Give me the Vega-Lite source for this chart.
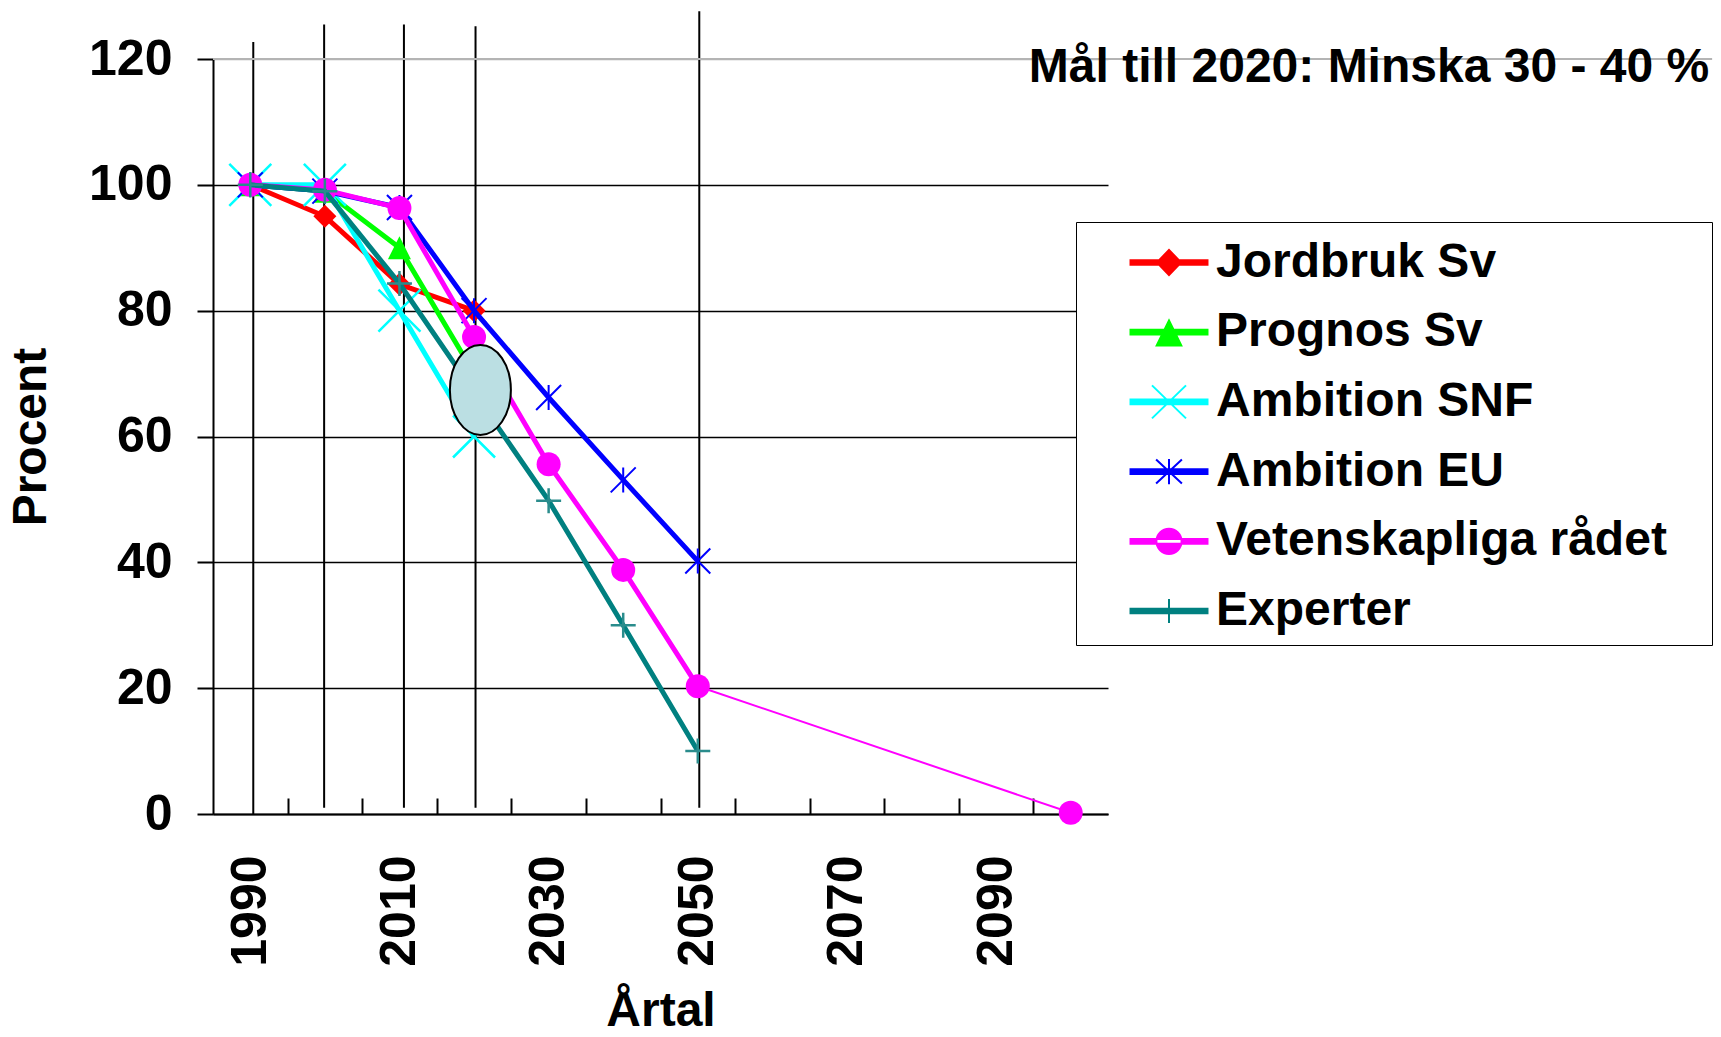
{
  "$schema": "https://vega.github.io/schema/vega-lite/v6.json",
  "width": 895,
  "height": 755,
  "autosize": {"type": "none"},
  "padding": {"left": 213, "top": 59, "right": 613, "bottom": 223},
  "background": "white",
  "config": {"view": {"stroke": null}},
  "datasets": {
    "series": [
      {"serie": "Jordbruk Sv", "year": 1990, "value": 100},
      {"serie": "Jordbruk Sv", "year": 2000, "value": 95},
      {"serie": "Jordbruk Sv", "year": 2010, "value": 84.2},
      {"serie": "Jordbruk Sv", "year": 2020, "value": 80},
      {"serie": "Prognos Sv", "year": 1990, "value": 100},
      {"serie": "Prognos Sv", "year": 2000, "value": 99},
      {"serie": "Prognos Sv", "year": 2010, "value": 90},
      {"serie": "Prognos Sv", "year": 2020, "value": 70},
      {"serie": "Ambition SNF", "year": 1990, "value": 100},
      {"serie": "Ambition SNF", "year": 2000, "value": 100},
      {"serie": "Ambition SNF", "year": 2010, "value": 80},
      {"serie": "Ambition SNF", "year": 2020, "value": 60},
      {"serie": "Ambition EU", "year": 1990, "value": 100},
      {"serie": "Ambition EU", "year": 2000, "value": 99},
      {"serie": "Ambition EU", "year": 2010, "value": 96.4},
      {"serie": "Ambition EU", "year": 2020, "value": 80},
      {"serie": "Ambition EU", "year": 2030, "value": 66.2},
      {"serie": "Ambition EU", "year": 2040, "value": 53.1},
      {"serie": "Ambition EU", "year": 2050, "value": 40.2},
      {"serie": "Vetenskapliga rådet", "year": 1990, "value": 100},
      {"serie": "Vetenskapliga rådet", "year": 2000, "value": 99.2},
      {"serie": "Vetenskapliga rådet", "year": 2010, "value": 96.3},
      {"serie": "Vetenskapliga rådet", "year": 2020, "value": 75.8},
      {"serie": "Vetenskapliga rådet", "year": 2030, "value": 55.6},
      {"serie": "Vetenskapliga rådet", "year": 2040, "value": 38.8},
      {"serie": "Vetenskapliga rådet", "year": 2050, "value": 20.3},
      {"serie": "Vetenskapliga rådet", "year": 2100, "value": 0.2},
      {"serie": "Experter", "year": 1990, "value": 100},
      {"serie": "Experter", "year": 2000, "value": 99},
      {"serie": "Experter", "year": 2010, "value": 84.3},
      {"serie": "Experter", "year": 2020, "value": 67},
      {"serie": "Experter", "year": 2030, "value": 49.8},
      {"serie": "Experter", "year": 2040, "value": 30},
      {"serie": "Experter", "year": 2050, "value": 10}
    ],
    "vlines": [
      {"year": 1990.4, "top": 122.7, "bottom": 0},
      {"year": 1999.9, "top": 125.5, "bottom": 1},
      {"year": 2010.6, "top": 125.5, "bottom": 1},
      {"year": 2020.2, "top": 125.2, "bottom": 1},
      {"year": 2050.2, "top": 127.6, "bottom": 1}
    ],
    "target": [
      {"year": 2020.85, "value": 67.4}
    ],
    "note": [
      {"label": "Mål till 2020: Minska 30 - 40 %", "year": 2185.6, "value": 116.3}
    ]
  },
  "layer": [
    {
      "data": {"name": "vlines"},
      "mark": {"type": "rule", "color": "black", "strokeWidth": 2},
      "encoding": {
        "x": {
          "field": "year", "type": "quantitative",
          "scale": {"domain": [1985, 2105], "nice": false, "zero": false},
          "axis": {
            "title": "Årtal",
            "values": [1990, 1995, 2000, 2005, 2010, 2015, 2020, 2025, 2030, 2035, 2040, 2045, 2050, 2055, 2060, 2065, 2070, 2075, 2080, 2085, 2090, 2095],
            "format": "d",
            "labelExpr": "datum.value % 20 == 10 ? datum.label : ''",
            "labelAngle": 270,
            "labelAlign": "right",
            "labelBaseline": "middle",
            "labelFont": "Liberation Sans",
            "labelFontSize": 50,
            "labelFontWeight": "bold",
            "labelColor": "black",
            "labelPadding": 57,
            "labelOverlap": false,
            "labelFlush": false,
            "labelBound": false,
            "tickSize": -16,
            "tickColor": "black",
            "tickWidth": 2,
            "tickOpacity": {"condition": {"test": "datum.value % 10 == 5", "value": 1}, "value": 0},
            "domainColor": "black",
            "domainWidth": 2,
            "grid": false,
            "titleFont": "Liberation Sans",
            "titleFontSize": 48,
            "titleFontWeight": "bold",
            "titleColor": "black",
            "titlePadding": 21
          }
        },
        "y": {
          "field": "top", "type": "quantitative",
          "scale": {"domain": [0, 120], "nice": false},
          "axis": {
            "title": "Procent",
            "values": [0, 20, 40, 60, 80, 100, 120],
            "labelFont": "Liberation Sans",
            "labelFontSize": 50,
            "labelFontWeight": "bold",
            "labelColor": "black",
            "labelPadding": 25,
            "tickSize": 16,
            "tickColor": "black",
            "tickWidth": 2,
            "domainColor": "black",
            "domainWidth": 2,
            "grid": true,
            "gridColor": {"condition": {"test": "datum.value == 120", "value": "#b4b4b4"}, "value": "black"},
            "gridWidth": 1.5,
            "titleFont": "Liberation Sans",
            "titleFontSize": 48,
            "titleFontWeight": "bold",
            "titleColor": "black",
            "titlePadding": 33
          }
        },
        "y2": {"field": "bottom"}
      }
    },
    {
      "data": {"name": "note"},
      "mark": {"type": "rule", "color": "#b4b4b4", "strokeWidth": 2},
      "encoding": {"x": {"datum": 1985}, "x2": {"datum": 2186}, "y": {"datum": 120}}
    },
    {
      "data": {"name": "series"},
      "transform": [{"filter": "datum.serie == 'Jordbruk Sv'"}],
      "mark": {"type": "line", "color": "#ff0000", "strokeWidth": 5},
      "encoding": {"x": {"field": "year", "type": "quantitative"}, "y": {"field": "value", "type": "quantitative"}}
    },
    {
      "data": {"name": "series"},
      "transform": [{"filter": "datum.serie == 'Jordbruk Sv'"}],
      "mark": {"type": "point", "shape": "diamond", "filled": true, "size": 529, "color": "#ff0000", "opacity": 1},
      "encoding": {"x": {"field": "year", "type": "quantitative"}, "y": {"field": "value", "type": "quantitative"}}
    },
    {
      "data": {"name": "series"},
      "transform": [{"filter": "datum.serie == 'Prognos Sv'"}],
      "mark": {"type": "line", "color": "#00ff00", "strokeWidth": 5},
      "encoding": {"x": {"field": "year", "type": "quantitative"}, "y": {"field": "value", "type": "quantitative"}}
    },
    {
      "data": {"name": "series"},
      "transform": [{"filter": "datum.serie == 'Prognos Sv'"}],
      "mark": {"type": "point", "shape": "M0,-1L1,1L-1,1Z", "filled": true, "size": 529, "color": "#00ff00", "opacity": 1},
      "encoding": {"x": {"field": "year", "type": "quantitative"}, "y": {"field": "value", "type": "quantitative"}}
    },
    {
      "data": {"name": "series"},
      "transform": [{"filter": "datum.serie == 'Ambition SNF'"}],
      "mark": {"type": "line", "color": "#00ffff", "strokeWidth": 5},
      "encoding": {"x": {"field": "year", "type": "quantitative"}, "y": {"field": "value", "type": "quantitative"}}
    },
    {
      "data": {"name": "series"},
      "transform": [{"filter": "datum.serie == 'Ambition SNF'"}],
      "mark": {"type": "point", "shape": "M-1,-1L1,1M-1,1L1,-1", "filled": false, "size": 1764, "color": "#00ffff", "strokeWidth": 2.5, "opacity": 1},
      "encoding": {"x": {"field": "year", "type": "quantitative"}, "y": {"field": "value", "type": "quantitative"}}
    },
    {
      "data": {"name": "series"},
      "transform": [{"filter": "datum.serie == 'Ambition EU'"}],
      "mark": {"type": "line", "color": "#0000ff", "strokeWidth": 5},
      "encoding": {"x": {"field": "year", "type": "quantitative"}, "y": {"field": "value", "type": "quantitative"}}
    },
    {
      "data": {"name": "series"},
      "transform": [{"filter": "datum.serie == 'Ambition EU'"}],
      "mark": {"type": "point", "shape": "M-1,-1L1,1M-1,1L1,-1M0,-1L0,1", "filled": false, "size": 625, "color": "#0000ff", "strokeWidth": 2, "opacity": 1},
      "encoding": {"x": {"field": "year", "type": "quantitative"}, "y": {"field": "value", "type": "quantitative"}}
    },
    {
      "data": {"name": "series"},
      "transform": [{"filter": "datum.serie == 'Vetenskapliga rådet' && datum.year <= 2050"}],
      "mark": {"type": "line", "color": "#ff00ff", "strokeWidth": 5},
      "encoding": {"x": {"field": "year", "type": "quantitative"}, "y": {"field": "value", "type": "quantitative"}}
    },
    {
      "data": {"name": "series"},
      "transform": [{"filter": "datum.serie == 'Vetenskapliga rådet' && datum.year >= 2050"}],
      "mark": {"type": "line", "color": "#ff00ff", "strokeWidth": 2},
      "encoding": {"x": {"field": "year", "type": "quantitative"}, "y": {"field": "value", "type": "quantitative"}}
    },
    {
      "data": {"name": "series"},
      "transform": [{"filter": "datum.serie == 'Vetenskapliga rådet'"}],
      "mark": {"type": "point", "shape": "circle", "filled": true, "size": 576, "color": "#ff00ff", "opacity": 1},
      "encoding": {"x": {"field": "year", "type": "quantitative"}, "y": {"field": "value", "type": "quantitative"}}
    },
    {
      "data": {"name": "series"},
      "transform": [{"filter": "datum.serie == 'Experter'"}],
      "mark": {"type": "line", "color": "#008080", "strokeWidth": 5},
      "encoding": {"x": {"field": "year", "type": "quantitative"}, "y": {"field": "value", "type": "quantitative"}}
    },
    {
      "data": {"name": "series"},
      "transform": [{"filter": "datum.serie == 'Experter'"}],
      "mark": {"type": "point", "shape": "M-1,0L1,0M0,-1L0,1", "filled": false, "size": 625, "color": "#2a8c8c", "strokeWidth": 2.5, "opacity": 1},
      "encoding": {"x": {"field": "year", "type": "quantitative"}, "y": {"field": "value", "type": "quantitative"}}
    },
    {
      "data": {"name": "target"},
      "mark": {"type": "point", "shape": "M-0.678,0A0.678,1,0,1,0,0.678,0A0.678,1,0,1,0,-0.678,0Z", "filled": true, "size": 8100, "fill": "#bbdfe3", "stroke": "black", "strokeWidth": 2, "opacity": 1},
      "encoding": {"x": {"field": "year", "type": "quantitative"}, "y": {"field": "value", "type": "quantitative"}}
    },
    {
      "data": {"name": "note"},
      "mark": {"type": "text", "align": "right", "baseline": "alphabetic", "font": "Liberation Sans", "fontSize": 48, "fontWeight": "bold", "color": "black"},
      "encoding": {
        "x": {"field": "year", "type": "quantitative"},
        "y": {"field": "value", "type": "quantitative"},
        "text": {"field": "label", "type": "nominal"}
      }
    },
    {
      "data": {"name": "series"},
      "transform": [{"filter": "datum.year == 1990"}],
      "mark": {"type": "point", "filled": true, "opacity": 0, "strokeWidth": 2},
      "encoding": {
        "x": {"field": "year", "type": "quantitative"},
        "y": {"field": "value", "type": "quantitative"},
        "shape": {
          "field": "serie", "type": "nominal",
          "scale": {
            "domain": ["Jordbruk Sv", "Prognos Sv", "Ambition SNF", "Ambition EU", "Vetenskapliga rådet", "Experter"],
            "range": [
              "M-1.283,-0.078L1.283,-0.078L1.283,0.078L-1.283,0.078Z M-0.4,0L0,-0.42L0.4,0L0,0.42Z",
              "M-1.283,-0.078L1.283,-0.078L1.283,0.078L-1.283,0.078Z M0,-0.39L0.41,0.44L-0.41,0.44Z",
              "M-1.283,-0.078L1.283,-0.078L1.283,0.078L-1.283,0.078Z M-0.567,-0.55L0.567,0.55M-0.567,0.55L0.567,-0.55",
              "M-1.283,-0.078L1.283,-0.078L1.283,0.078L-1.283,0.078Z M-0.43,-0.4L0.43,0.4M-0.43,0.4L0.43,-0.4M0,-0.42L0,0.42",
              "M-1.283,-0.078L1.283,-0.078L1.283,0.078L-1.283,0.078Z M-0.42,0A0.42,0.42,0,1,0,0.42,0A0.42,0.42,0,1,0,-0.42,0Z",
              "M-1.283,-0.078L1.283,-0.078L1.283,0.078L-1.283,0.078Z M0,-0.4L0,0.4"
            ]
          },
          "legend": {
            "orient": "none",
            "legendX": 863,
            "legendY": 163,
            "title": null,
            "strokeColor": "black",
            "fillColor": "white",
            "padding": 9.5,
            "symbolOffset": 52.5,
            "labelOffset": 16,
            "rowPadding": 14.7,
            "symbolSize": 3600,
            "symbolStrokeWidth": 2,
            "symbolOpacity": 1,
            "labelFont": "Liberation Sans",
            "labelFontSize": 48,
            "labelFontWeight": "bold",
            "labelColor": "black",
            "labelLimit": 1000,
            "labelExpr": "datum.label + '\u2800'",
            "encode": {"legend": {"update": {"strokeWidth": {"value": 2}}}}
          }
        },
        "fill": {
          "field": "serie", "type": "nominal",
          "scale": {
            "domain": ["Jordbruk Sv", "Prognos Sv", "Ambition SNF", "Ambition EU", "Vetenskapliga rådet", "Experter"],
            "range": ["#ff0000", "#00ff00", "#00ffff", "#0000ff", "#ff00ff", "#008080"]
          }
        },
        "stroke": {
          "field": "serie", "type": "nominal",
          "scale": {
            "domain": ["Jordbruk Sv", "Prognos Sv", "Ambition SNF", "Ambition EU", "Vetenskapliga rådet", "Experter"],
            "range": ["#ff0000", "#00ff00", "#00ffff", "#0000ff", "#ff00ff", "#008080"]
          }
        }
      }
    }
  ]
}
